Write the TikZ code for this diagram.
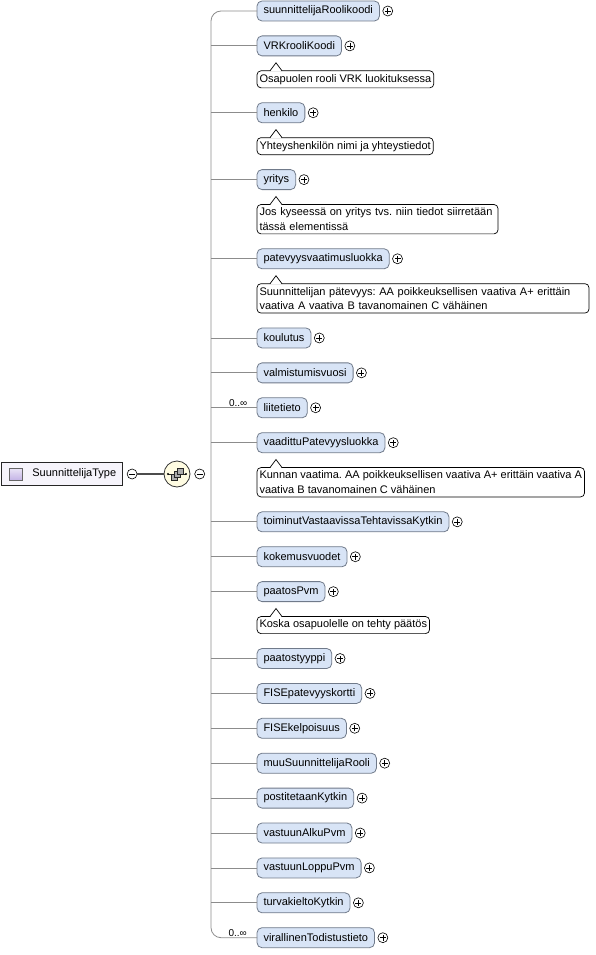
\documentclass[tikz,border=0pt]{standalone}
\usepackage{fontspec}
\setmainfont{Liberation Sans}
\usepackage{xcolor}
\usetikzlibrary{positioning,calc}
\frenchspacing

\definecolor{elemfill}{RGB}{216,228,246}
\definecolor{elemline}{RGB}{112,122,138}
\definecolor{spinegray}{RGB}{140,140,140}
\definecolor{rootfill}{RGB}{246,244,251}
\definecolor{iconfill}{RGB}{196,180,230}
\definecolor{seqfill}{RGB}{255,252,226}

\begin{document}
\begin{tikzpicture}[x=1pt, y=-1pt,
    font=\fontsize{11}{13}\selectfont,
    elem/.style={draw=elemline, line width=0.8pt, fill=elemfill, rounded corners=5pt,
    minimum height=20pt, inner xsep=6.5pt, inner ysep=0pt, outer sep=0pt, anchor=north west},
    note/.style={draw, line width=0.7pt, fill=white, rounded corners=4pt, align=left,
    font=\fontsize{11}{14.5}\selectfont,
    inner xsep=2.5pt, inner ysep=3.4pt, minimum height=17pt, outer sep=0pt, anchor=north west},
    after/.style={below right=14.9pt and 0pt of #1},
    plusc/.style={circle, draw, line width=0.6pt, fill=white, minimum size=10pt, inner sep=0pt,
    path picture={\draw[line width=0.6pt] ([xshift=-3pt]path picture bounding box.center) -- ([xshift=3pt]path picture bounding box.center)
    ([yshift=-3pt]path picture bounding box.center) -- ([yshift=3pt]path picture bounding box.center);}},
    minusc/.style={circle, draw, line width=0.6pt, fill=white, minimum size=10pt, inner sep=0pt,
    path picture={\draw[line width=0.6pt] ([xshift=-3pt]path picture bounding box.center) -- ([xshift=3pt]path picture bounding box.center);}},
    branch/.style={draw=spinegray, line width=0.8pt},
    mult/.style={above, inner sep=1pt, font=\fontsize{10}{12}\selectfont}
]
\useasboundingbox (0,0) rectangle (596,955);

% root type and sequence
\node[draw=black!85, line width=0.8pt, fill=rootfill, anchor=west, minimum height=23pt,
    text width=121pt, inner xsep=0pt, align=left] (root) at (1,474) {\hspace*{31pt}SuunnittelijaType};
\draw[draw=gray!80!black, top color=iconfill!35, bottom color=iconfill] ($(root.west)+(8,-6)$) rectangle ++(13,12);
\node[minusc, right=4pt of root] (rootm) {};
\node[circle, draw=gray!40!black, line width=0.8pt, fill=seqfill, minimum size=26pt] (seq) at (177,474) {};
\draw[gray!60!black, line width=1.6pt] (rootm) -- (seq);
\draw[gray!30!black, line width=0.7pt] ($(seq)+(-9,0)$) -- ($(seq)+(9,0)$);
\fill[black] ($(seq)+(-9,0)$) circle (1.1) ($(seq)+(9,0)$) circle (1.1);
\foreach \dx/\dy in {-6/0,-3/-3,0/-6}
  \draw[draw=gray!30!black, fill=gray!65, line width=0.5pt] ($(seq)+(\dx,\dy)$) rectangle ++(6,6);
\node[minusc, right=4pt of seq] (seqm) {};
\coordinate (sp) at (211,474);

% child elements
\node[elem] (rooli) at (257,1) {suunnittelijaRoolikoodi};
\node[elem, after=rooli.south west] (vrk) {VRKrooliKoodi};
\node[note, after=vrk.south west] (vrkn) {Osapuolen rooli VRK luokituksessa};
\node[elem, after=vrkn.south west] (henkilo) {henkilo};
\node[note, after=henkilo.south west] (henkilon) {Yhteyshenkilön nimi ja yhteystiedot};
\node[elem, after=henkilon.south west] (yritys) {yritys};
\node[note, after=yritys.south west, text width=236pt] (yritysn) {Jos kyseessä on yritys tvs. niin tiedot siirretään\\tässä elementissä};
\node[elem, after=yritysn.south west] (patev) {patevyysvaatimusluokka};
\node[note, after=patev.south west, text width=327pt] (patevn) {Suunnittelijan pätevyys: AA poikkeuksellisen vaativa A+ erittäin\\vaativa A vaativa B tavanomainen C vähäinen};
\node[elem, after=patevn.south west] (koulutus) {koulutus};
\node[elem, after=koulutus.south west] (valm) {valmistumisvuosi};
\node[elem, after=valm.south west] (liite) {liitetieto};
\node[elem, after=liite.south west] (vaad) {vaadittuPatevyysluokka};
\node[note, after=vaad.south west] (vaadn) {Kunnan vaatima. AA poikkeuksellisen vaativa A+ erittäin vaativa A\\vaativa B tavanomainen C vähäinen};
\node[elem, after=vaadn.south west] (toim) {toiminutVastaavissaTehtavissaKytkin};
\node[elem, after=toim.south west] (kokem) {kokemusvuodet};
\node[elem, after=kokem.south west] (paatos) {paatosPvm};
\node[note, after=paatos.south west] (paatosn) {Koska osapuolelle on tehty päätös};
\node[elem, after=paatosn.south west] (ptyyppi) {paatostyyppi};
\node[elem, after=ptyyppi.south west] (fisepk) {FISEpatevyyskortti};
\node[elem, after=fisepk.south west] (fisek) {FISEkelpoisuus};
\node[elem, after=fisek.south west] (muurooli) {muuSuunnittelijaRooli};
\node[elem, after=muurooli.south west] (post) {postitetaanKytkin};
\node[elem, after=post.south west] (valku) {vastuunAlkuPvm};
\node[elem, after=valku.south west] (vloppu) {vastuunLoppuPvm};
\node[elem, after=vloppu.south west] (turva) {turvakieltoKytkin};
\node[elem, after=turva.south west] (viral) {virallinenTodistustieto};

% expand buttons
\foreach \n in {rooli,vrk,henkilo,yritys,patev,koulutus,valm,liite,vaad,toim,kokem,
    paatos,ptyyppi,fisepk,fisek,muurooli,post,valku,vloppu,turva,viral}
  \node[plusc, right=3pt of \n] (\n-exp) {};

% callout notches
\foreach \n in {vrkn,henkilon,yritysn,patevn,vaadn,paatosn} {
  \fill[white] ($(\n.north west)+(13.4,0.7)$) -- ++(0,-0.7) -- ++(5.6,-8) -- ++(5.6,8) -- ++(0,0.7) -- cycle;
  \draw[line width=0.7pt] ($(\n.north west)+(13,0)$) -- ++(6,-8) -- ++(6,8);
}

% sequence spine
\draw[branch, rounded corners=10pt] (rooli.west) -| (sp) |- node[mult, pos=0.79] {0..∞} (viral.west);
\foreach \n in {vrk,henkilo,yritys,patev,koulutus,valm,vaad,toim,kokem,
    paatos,ptyyppi,fisepk,fisek,muurooli,post,valku,vloppu,turva}
  \draw[branch] (sp |- \n.west) -- (\n.west);
\draw[branch] (sp |- liite.west) -- node[mult, pos=0.59] {0..∞} (liite.west);
\end{tikzpicture}
\end{document}
